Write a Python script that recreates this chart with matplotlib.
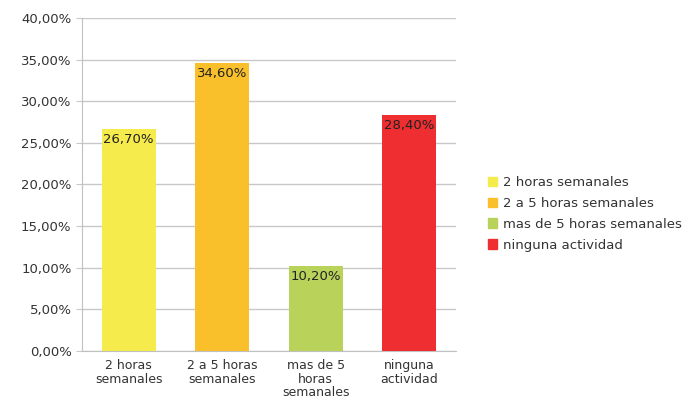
import matplotlib.pyplot as plt
from matplotlib.patches import Patch
from matplotlib.ticker import FuncFormatter

# Data
categories = ["2 horas\nsemanales", "2 a 5 horas\nsemanales",
              "mas de 5\nhoras\nsemanales", "ninguna\nactividad"]
legend_labels = ["2 horas semanales", "2 a 5 horas semanales",
                 "mas de 5 horas semanales", "ninguna actividad"]
values = [26.70, 34.60, 10.20, 28.40]
colors = ["#F5EB4C", "#F9C02B", "#B8D25A", "#EE2E31"]

plt.rcParams["font.family"] = "DejaVu Sans"

fig = plt.figure(figsize=(6.9, 4.0), dpi=100)
ax = fig.add_axes([0.1188, 0.1225, 0.542, 0.8325])

x = range(len(categories))
ax.bar(x, values, width=0.58, color=colors, zorder=3)

for i, v in enumerate(values):
    ax.text(i, v - 0.5, f"{v:.2f}%".replace(".", ","), ha="center", va="top",
            fontsize=9.5, color="#222222", zorder=4)

ax.set_ylim(0, 40)
ax.set_xlim(-0.5, len(categories) - 0.5)
ax.set_yticks(range(0, 41, 5))
ax.yaxis.set_major_formatter(FuncFormatter(lambda v, p: f"{v:.2f}%".replace(".", ",")))
ax.grid(axis="y", color="#C8C8C8", linewidth=1, zorder=0)
ax.set_xticks(list(x))
ax.set_xticklabels(categories, fontsize=9, color="#333333", linespacing=1.05)
ax.tick_params(axis="y", labelsize=9.5, labelcolor="#333333", length=4, color="#C8C8C8")
ax.tick_params(axis="x", length=0, pad=6)

for s in ["top", "right"]:
    ax.spines[s].set_visible(False)
for s in ["left", "bottom"]:
    ax.spines[s].set_color("#C0C0C0")

handles = [Patch(color=c) for c in colors]
fig.legend(handles, legend_labels, loc="upper left", bbox_to_anchor=(0.69, 0.59),
           frameon=False, fontsize=9.5, handlelength=0.7, handleheight=0.7,
           handletextpad=0.45, labelspacing=0.6, labelcolor="#333333")

fig.savefig("out.png", dpi=100)
